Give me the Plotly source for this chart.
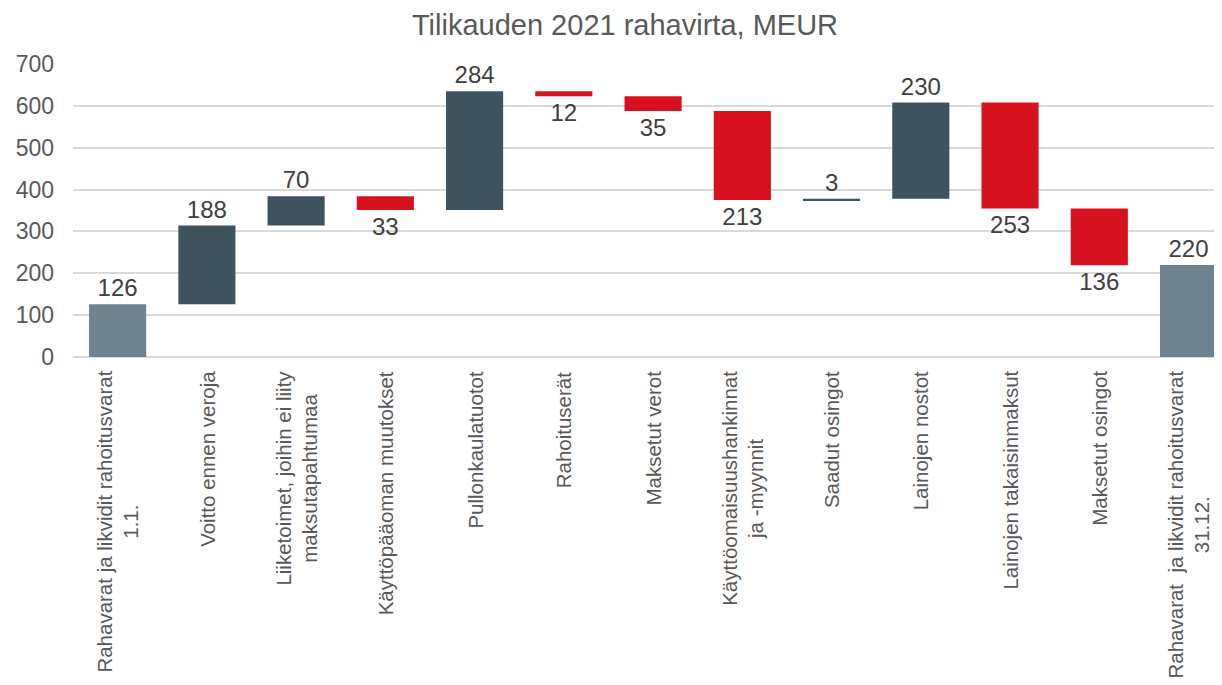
import plotly.graph_objects as go

categories = [
    "Rahavarat ja likvidit rahoitusvarat<br>1.1.",
    "Voitto ennen veroja",
    "Liiketoimet, joihin ei liity<br>maksutapahtumaa",
    "Käyttöpääoman muutokset",
    "Pullonkaulatuotot",
    "Rahoituserät",
    "Maksetut verot",
    "Käyttöomaisuushankinnat<br>ja -myynnit",
    "Saadut osingot",
    "Lainojen nostot",
    "Lainojen takaisinmaksut",
    "Maksetut osingot",
    "Rahavarat  ja likvidit rahoitusvarat<br>31.12.",
]
values = [126, 188, 70, -33, 284, -12, -35, -213, 3, 230, -253, -136, 220]
measures = ["absolute", "relative", "relative", "relative", "relative", "relative",
            "relative", "relative", "relative", "relative", "relative", "relative", "absolute"]
y_ticks = [0, 100, 200, 300, 400, 500, 600, 700]

labels = [str(abs(v)) for v in values]
xkeys = [f"c{i}" for i in range(len(categories))]

FONT = "Arial, Liberation Sans, sans-serif"

fig = go.Figure(go.Waterfall(
    x=xkeys,
    y=values,
    measure=measures,
    text=labels,
    textposition="outside",
    textfont=dict(family=FONT, size=24, color="#404040"),
    cliponaxis=False,
    width=0.64,
    connector=dict(visible=False),
    increasing=dict(marker=dict(color="#3E535E")),
    decreasing=dict(marker=dict(color="#D7121F")),
    totals=dict(marker=dict(color="#6E828F")),
    hoverinfo="skip",
))

annotations = []
for k, c in zip(xkeys, categories):
    annotations.append(dict(
        x=k, xref="x", y=0, yref="paper", yanchor="top", xanchor="center",
        yshift=-12, text=c, textangle=-90, align="center", showarrow=False,
        font=dict(family=FONT, size=20.5, color="#595959"),
    ))

fig.update_layout(
    width=1222, height=685,
    margin=dict(l=63, r=8, t=56, b=336),
    paper_bgcolor="white", plot_bgcolor="white",
    showlegend=False,
    title=dict(text="Tilikauden 2021 rahavirta, MEUR", x=617 / 1222, xanchor="center",
               y=1 - 17 / 685, yref="container", yanchor="middle",
               font=dict(family=FONT, size=29, color="#595959")),
    annotations=annotations,
    font=dict(family=FONT),
)
fig.update_xaxes(type="category", range=[-0.5, 12.375], showgrid=False,
                 showline=False, showticklabels=False, ticks="")
fig.update_yaxes(range=[0, 700], tickvals=y_ticks, showgrid=True, gridcolor="#D9D9D9",
                 gridwidth=1.6, zeroline=True, zerolinecolor="#D9D9D9", zerolinewidth=1.6,
                 showline=False, ticks="", ticklabelstandoff=18,
                 tickfont=dict(family=FONT, size=23, color="#595959"))

fig.write_html("out.html")
